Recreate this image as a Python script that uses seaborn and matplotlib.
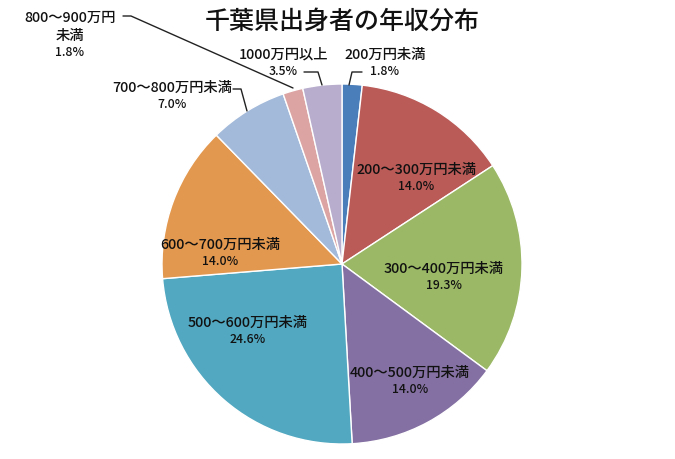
import numpy as np
import matplotlib
matplotlib.use("Agg")
import matplotlib.pyplot as plt
import seaborn as sns

categories = ["200万円未満", "200～300万円未満", "300～400万円未満", "400～500万円未満",
              "500～600万円未満", "600～700万円未満", "700～800万円未満", "800～900万円\n未満",
              "1000万円以上"]
values = [1.8, 14.0, 19.3, 14.0, 24.6, 14.0, 7.0, 1.8, 3.5]
colors = ["#4A7EBB", "#BA5B58", "#9AB865", "#8470A2", "#51A8C0", "#E3984F",
          "#A3BADA", "#DCA4A3", "#B8ADCD"]
title = "千葉県出身者の年収分布"

sns.set_theme(style="white")
plt.rcParams['font.family'] = ['Noto Sans CJK JP', 'DejaVu Sans']

W, H = 675, 460
fig = plt.figure(figsize=(W / 100, H / 100), dpi=100)
cx, cy, R = 342, 265, 180
ax = fig.add_axes([(cx - R) / W, (H - cy - R) / H, 2 * R / W, 2 * R / H])
pal = sns.color_palette(colors)
wedges, _ = ax.pie(values, colors=pal, startangle=90, counterclock=False,
                   radius=1.0, wedgeprops=dict(edgecolor="white", linewidth=1.0))
ax.set_xlim(-1, 1)
ax.set_ylim(-1, 1)
ax.set_aspect("equal")
ax.axis("off")

def px(x, y):
    return ((x - cx) / R, (cy - y) / R)

lab_fs, pct_fs = 10.3, 8.8
fw = "medium"
tc = "#111111"

def label(i, x, y, ha="center"):
    X, Y = px(x, y)
    ax.text(X, Y + 0.045, categories[i], ha=ha, va="center", fontsize=lab_fs,
            color=tc, fontweight=fw, clip_on=False)
    ax.text(X, Y - 0.05, f"{values[i]:.1f}%", ha=ha, va="center", fontsize=pct_fs,
            color=tc, fontweight=fw, clip_on=False)

# inside labels
label(1, 416, 178)
label(2, 444, 277)
label(3, 410, 381)
label(4, 248, 331)
label(5, 220, 253)

def leader(pts):
    xs, ys = zip(*[px(a, b) for a, b in pts])
    ax.plot(xs, ys, color="#222222", lw=1.0, clip_on=False)

# outside labels
label(0, 385, 63)
leader([(362, 73), (352, 73), (349, 86)])
label(8, 283, 63)
leader([(304, 73), (318, 73), (322, 86)])
label(6, 172, 96)
leader([(233, 90), (241, 90), (247, 112)])

# 800~900 label (three lines)
X, Y = px(70, 35)
ax.text(X, Y + 0.045, categories[7], ha="center", va="center", fontsize=lab_fs,
        color=tc, fontweight=fw, clip_on=False, linespacing=1.4)
X, Y = px(70, 53)
ax.text(X, Y, f"{values[7]:.1f}%", ha="center", va="center", fontsize=pct_fs,
        color=tc, fontweight=fw, clip_on=False)
leader([(123, 17), (131, 17), (293, 89)])

fig.text(cx / W, 1 - 22 / H, title, ha="center", va="center", fontsize=18,
         color=tc, fontweight=fw)

fig.savefig("out.png", dpi=100, facecolor="white")
